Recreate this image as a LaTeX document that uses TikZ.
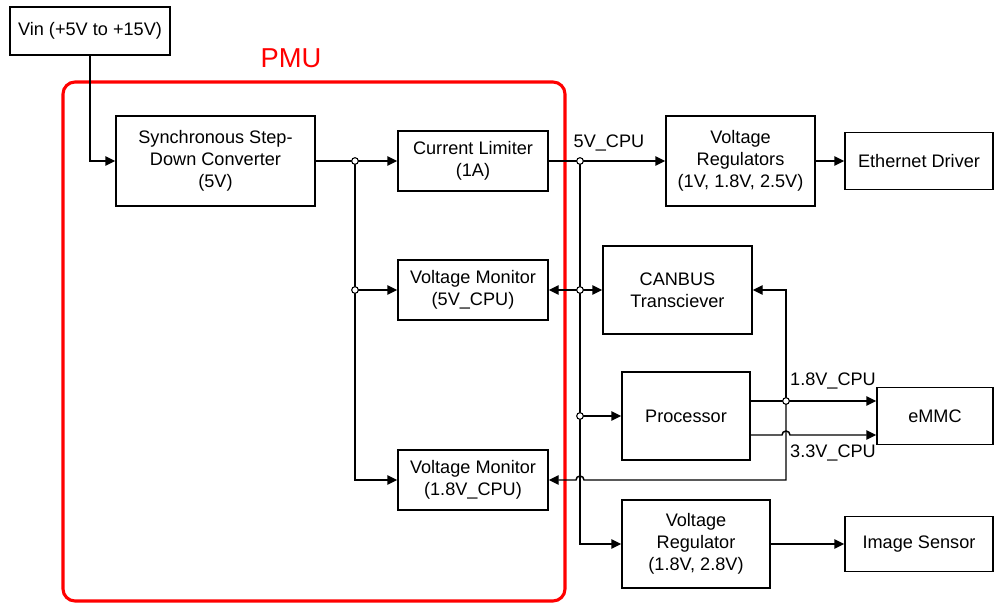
\documentclass[tikz,border=0pt]{standalone}
\usepackage{fontspec}
\setmainfont{Liberation Sans}
\definecolor{pmuc}{HTML}{FF0000}
\usetikzlibrary{arrows.meta,positioning,calc}
\tikzset{
  >={Triangle[length=7.5pt,width=7pt]},
  blk/.style={draw,line width=1.1pt,fill=white,align=center,inner sep=2pt,font=\fontsize{13.6}{16.4}\selectfont},
  wire/.style={->,line width=1.1pt},
  dot/.style={circle,draw,fill=white,line width=0.8pt,inner sep=0pt,minimum size=5pt},
  lbl/.style={font=\fontsize{13.6}{16.4}\selectfont,inner sep=0pt},
}

\begin{document}
\begin{tikzpicture}[x=0.75pt,y=-0.75pt]
  \useasboundingbox (0,0) rectangle (997,603);
  % PMU frame
  \draw[pmuc,line width=2.3pt,rounded corners=9pt] (63,82) rectangle (565,601);
  \node[lbl,text=pmuc,font=\fontsize{20.5}{24}\selectfont] (pmu) at (291,58) {PMU};
  % blocks
  \node[blk,minimum width=120pt,minimum height=36pt] (vin) at (90,31) {Vin (+5V to +15V)};
  \node[blk,minimum width=149.25pt,minimum height=67.5pt] (sync) at (215.5,161) {Synchronous Step-\\Down Converter\\(5V)};
  \node[blk,minimum width=112.5pt,minimum height=45pt] (curlim) at (473,161) {Current Limiter\\(1A)};
  \node[blk,minimum width=112.5pt,minimum height=45pt] (vmon5) at (473,290) {Voltage Monitor\\(5V\_CPU)};
  \node[blk,minimum width=112.5pt,minimum height=45pt] (vmon18) at (473,480) {Voltage Monitor\\(1.8V\_CPU)};
  \node[blk,minimum width=111.75pt,minimum height=67.5pt] (vregs) at (740.5,161) {Voltage\\Regulators\\(1V, 1.8V, 2.5V)};
  \node[blk,minimum width=111pt,minimum height=42.75pt] (eth) at (919,161) {Ethernet Driver};
  \node[blk,minimum width=111.75pt,minimum height=66pt] (can) at (677.5,290) {CANBUS\\Transciever};
  \node[blk,minimum width=96pt,minimum height=66pt] (proc) at (686,416) {Processor};
  \node[blk,minimum width=87pt,minimum height=42.75pt] (emmc) at (935,416) {eMMC};
  \node[blk,minimum width=111pt,minimum height=66pt] (vreg) at (696,544) {Voltage\\Regulator\\(1.8V, 2.8V)};
  \node[blk,minimum width=111pt,minimum height=41.25pt] (img) at (919,544) {Image Sensor};
  % junctions
  \coordinate (j1) at (355,161);
  \coordinate (j2) at (580,161);
  \coordinate (j3) at (786,401);
  % wires
  \draw[wire] (vin.south) |- (sync.west);
  \draw[wire] (sync.east) -- (curlim.west);
  \draw[wire] (j1) |- (vmon5.west);
  \draw[wire] (j1) |- (vmon18.west);
  \draw[wire] (curlim.east) -- (vregs.west);
  \draw[wire] (j2) |- (vreg.west);
  \draw[wire] (j2 |- proc.west) -- (proc.west);
  \draw[wire,<->] (vmon5.east) -- (can.west);
  \draw[wire] (vregs.east) -- (eth.west);
  \draw[wire] (vreg.east) -- (img.west);
  \draw[wire] ($(proc.east)+(0,-15)$) -- ($(emmc.west)+(0,-15)$);
  \draw[wire] ($(proc.east)+(0,19)$) -- ($(j3)+(-4,34)$) arc[start angle=180,end angle=360,radius=4] -- ($(emmc.west)+(0,19)$);
  \draw[wire] (j3) |- (can.east);
  \draw[wire] (j3) -- ($(j3)+(0,79)$) -- ($(j2)+(4,319)$) arc[start angle=0,end angle=-180,radius=4] -- (vmon18.east);
  \node[dot] (d1) at (j1) {};
  \node[dot] (d2) at (j1 |- vmon5.west) {};
  \node[dot] (d3) at (j2) {};
  \node[dot] (d4) at (j2 |- can.west) {};
  \node[dot] (d5) at (j2 |- proc.west) {};
  \node[dot] (d6) at (j3) {};
  % rail names
  \node[lbl] (l5) at (609,143) {5V\_CPU};
  \node[lbl] (l18) at (833,381) {1.8V\_CPU};
  \node[lbl] (l33) at (833,453) {3.3V\_CPU};
\end{tikzpicture}
\end{document}
